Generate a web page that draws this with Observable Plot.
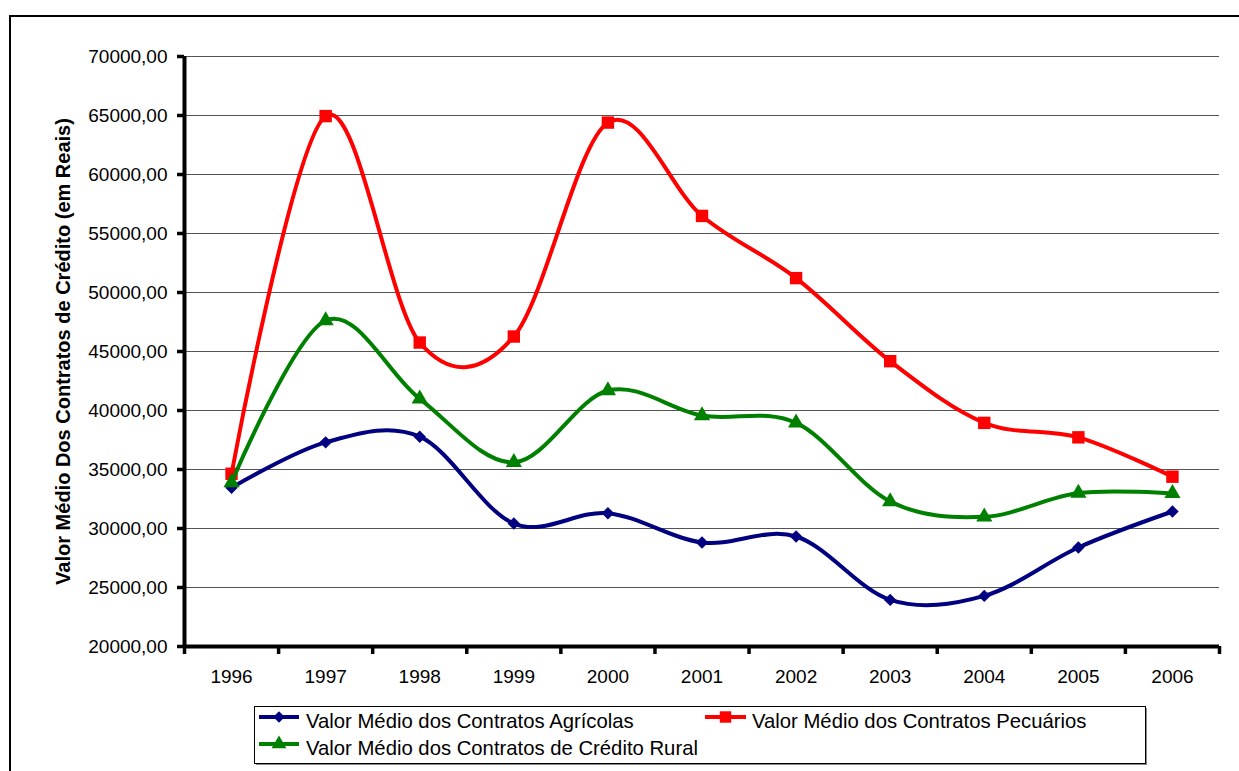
<!DOCTYPE html>
<html>
<head>
<meta charset="utf-8">
<script src="https://cdn.jsdelivr.net/npm/d3@7"></script>
<script src="https://cdn.jsdelivr.net/npm/@observablehq/plot@0.6"></script>
<style>
  html, body { margin: 0; padding: 0; background: #fff; }
  #wrap { position: relative; width: 1239px; height: 771px; overflow: hidden; background: #fff;
          font-family: "Liberation Sans", Arial, sans-serif; }
  #frame { position: absolute; left: 9px; top: 15px; width: 1300px; height: 900px;
           border-left: 2px solid #000; border-top: 2px solid #000; }
  #chart { position: absolute; left: 0; top: 0; }
  #legend { position: absolute; left: 0; top: 0; }
</style>
</head>
<body>
<div id="wrap">
  <div id="frame"></div>
  <div id="chart"></div>
  <svg id="legend" width="1239" height="771"></svg>
</div>
<script>
// ---- data ----
const years = [1996, 1997, 1998, 1999, 2000, 2001, 2002, 2003, 2004, 2005, 2006];
const agricolas    = [33450, 37300, 37780, 30420, 31300, 28810, 29320, 23950, 24290, 28390, 31440];
const pecuarios    = [34640, 64950, 45760, 46270, 64400, 56490, 51220, 44180, 38950, 37725, 34390];
const creditoRural = [33900, 47630, 40990, 35600, 41690, 39570, 38950, 32290, 30990, 33000, 32970];
const seriesNames = [
  "Valor Médio dos Contratos Agrícolas",
  "Valor Médio dos Contratos Pecuários",
  "Valor Médio dos Contratos de Crédito Rural"
];
const yTicks = [20000, 25000, 30000, 35000, 40000, 45000, 50000, 55000, 60000, 65000, 70000];
const yTitle = "Valor Médio Dos Contratos de Crédito (em Reais)";

// ---- styles ----
const styles = [
  {color: "#000080", symbol: "diamond2", r: 5.6},
  {color: "#FF0000", symbol: "square", r: 7.0},
  {color: "#008000", symbol: "triangle", r: 6.0}
];
const seriesValues = [agricolas, pecuarios, creditoRural];

const tables = seriesValues.map((vals, i) =>
  years.map((y, j) => ({year: y, value: vals[j], series: seriesNames[i]})));

const boundaries = [years[0] - 0.5, ...years.map(y => y + 0.5)];

const W = 1239, H = 700;
const seriesMarks = tables.flatMap((t, i) => [
  Plot.line(t, {x: "year", y: "value", stroke: styles[i].color, strokeWidth: 4,
                curve: "cardinal", strokeLinejoin: "round", strokeLinecap: "round"}),
  Plot.dot(t, {x: "year", y: "value", symbol: () => styles[i].symbol, fill: styles[i].color,
               stroke: "none", r: styles[i].r})
]);

const chart = Plot.plot({
  width: W,
  height: H,
  marginLeft: 184,
  marginRight: 20,
  marginTop: 56,
  marginBottom: 54,
  style: {fontFamily: "'Liberation Sans', Arial, sans-serif", fontSize: "19px", background: "transparent", overflow: "visible", color: "#000"},
  x: {type: "linear", domain: [boundaries[0], boundaries[boundaries.length - 1]], label: null},
  y: {type: "linear", domain: [yTicks[0], yTicks[yTicks.length - 1]], label: null},
  symbol: {type: "identity"},
  marks: [
    Plot.ruleY(yTicks.slice(1), {stroke: "#555", strokeWidth: 1}),
    Plot.axisY({ticks: yTicks, tickSize: 7, tickPadding: 10, strokeWidth: 3.5,
                tickFormat: d => d + ",00", fontSize: 19, label: null}),
    Plot.axisX({ticks: years, tickSize: 0, tickPadding: 23, tickFormat: d => String(d),
                fontSize: 19, label: null}),
    Plot.axisX({ticks: boundaries, tickSize: 8, strokeWidth: 3.5, tickFormat: () => "", label: null}),
    Plot.ruleX([boundaries[0]], {stroke: "#000", strokeWidth: 4}),
    Plot.ruleY([yTicks[0]], {stroke: "#000", strokeWidth: 4}),
    ...seriesMarks,
    Plot.text([yTitle], {frameAnchor: "left", textAnchor: "middle", rotate: -90, dx: -121,
                         fontWeight: "bold", fontSize: 20, fill: "#000"})
  ]
});
document.getElementById("chart").appendChild(chart);

// ---- legend ----
const lg = d3.select("#legend");
lg.append("rect").attr("x", 256).attr("y", 708).attr("width", 891).attr("height", 57).attr("fill", "#888");
lg.append("rect").attr("x", 254.5).attr("y", 706.5).attr("width", 891).attr("height", 57)
  .attr("fill", "#fff").attr("stroke", "#000").attr("stroke-width", 1);
const legendPos = [
  {x0: 259, x1: 299, y: 717, tx: 306, by: 728},
  {x0: 705, x1: 746, y: 717, tx: 752, by: 728},
  {x0: 259, x1: 299, y: 744, tx: 306, by: 755}
];
const symMap = {diamond2: d3.symbolDiamond2, square: d3.symbolSquare, triangle: d3.symbolTriangle};
legendPos.forEach((p, i) => {
  const s = styles[i];
  lg.append("line").attr("x1", p.x0).attr("x2", p.x1).attr("y1", p.y).attr("y2", p.y)
    .attr("stroke", s.color).attr("stroke-width", 4);
  lg.append("path")
    .attr("d", d3.symbol(symMap[s.symbol], s.r * s.r * Math.PI * 0.85)())
    .attr("transform", `translate(${(p.x0 + p.x1) / 2},${p.y})`)
    .attr("fill", s.color);
  lg.append("text").attr("x", p.tx).attr("y", p.by).text(seriesNames[i])
    .attr("font-size", 20.3).attr("font-family", "'Liberation Sans', Arial, sans-serif").attr("fill", "#000");
});
</script>
</body>
</html>
